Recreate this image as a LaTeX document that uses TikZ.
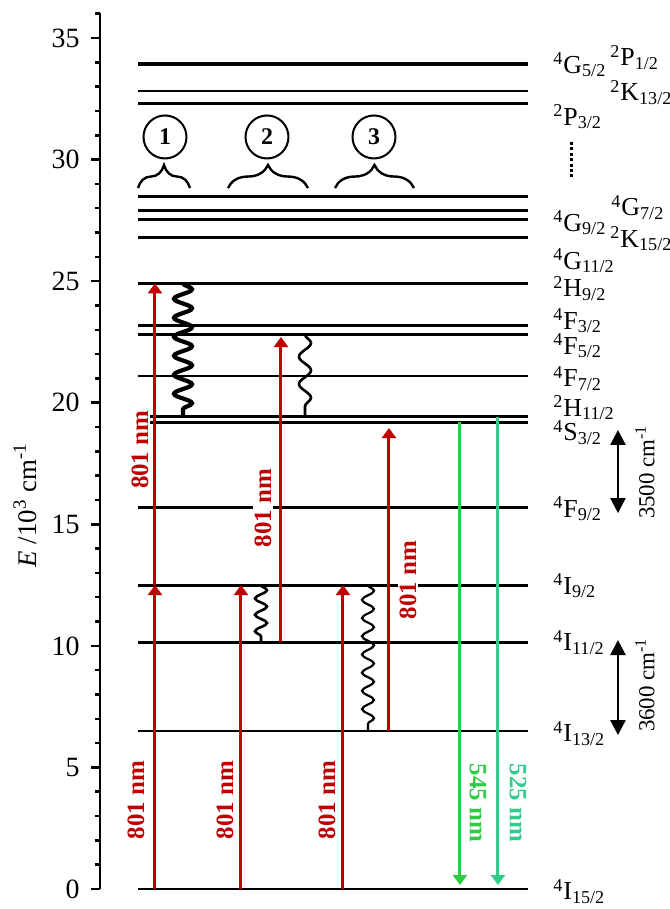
\documentclass[tikz,border=0pt]{standalone}
\usepackage{fontspec}
\setmainfont{Liberation Serif}
\usetikzlibrary{arrows.meta,decorations.pathmorphing,decorations.pathreplacing}
\definecolor{pumpred}{RGB}{192,0,0}
\definecolor{green545}{RGB}{46,204,64}
\definecolor{green525}{RGB}{48,204,140}
\newcommand{\stlab}[3]{\textsuperscript{#1}#2\textsubscript{#3}}

\begin{document}
\begin{tikzpicture}[
  x=0.5bp, y=12.157bp,
  lvl/.style     ={line width=1.45bp},
  toplvl/.style  ={line width=1.9bp},
  axis/.style    ={line width=1.25bp},
  pump/.style    ={pumpred, line width=1.5bp, -{Triangle[width=7bp,length=5bp]}},
  emit/.style    ={line width=1.5bp, -{Triangle[width=7bp,length=5bp]}},
  split/.style   ={line width=1.2bp, {Triangle[width=7.5bp,length=7.5bp]}-{Triangle[width=7.5bp,length=7.5bp]}},
  relax/.style   ={decorate, line width=1.3bp},
  brc/.style     ={decorate, decoration={brace, amplitude=11.5bp}, line width=1.2bp},
  num/.style     ={circle, draw, line width=1bp, minimum size=21.5bp, inner sep=0pt,
                   font=\fontsize{12}{14}\selectfont\bfseries},
  termlab/.style ={anchor=base west, inner sep=0pt, font=\fontsize{13}{16}\selectfont},
  ticklab/.style ={anchor=east, inner sep=0pt, font=\fontsize{14}{16}\selectfont},
  wl/.style      ={rotate=90, fill=white, inner sep=1pt, font=\fontsize{12.5}{15}\selectfont\bfseries},
  spl/.style     ={rotate=90, inner sep=0pt, font=\fontsize{11.5}{14}\selectfont}
]
\useasboundingbox (0,-0.8226) rectangle (670,36.564);

% energy axis
\draw[axis] (100,0) -- (100,36.03);
\foreach \e in {0,...,36}
  \draw[axis] (100,\e) -- (95,\e);
\foreach \e in {0,5,...,35} {
  \draw[axis] (100,\e) -- (91,\e);
  \node[ticklab] (t\e) at (80,\e) {\e};
}
\node[rotate=90, font=\fontsize{13.5}{16}\selectfont] (elab) at (25,15.79)
  {\textit{E} /10\textsuperscript{3} cm\textsuperscript{-1}};

% levels
\coordinate (G52)  at (138,33.92);
\coordinate (K132) at (138,32.82);
\coordinate (P32)  at (138,32.31);
\coordinate (G72)  at (138,28.47);
\coordinate (G92)  at (138,27.89);
\coordinate (K152) at (138,27.54);
\coordinate (G112) at (138,26.80);
\coordinate (H92)  at (138,24.91);
\coordinate (F32)  at (138,23.17);
\coordinate (F52)  at (138,22.81);
\coordinate (F72)  at (138,21.10);
\coordinate (H112) at (138,19.43);
\coordinate (S32)  at (138,19.19);
\coordinate (F92)  at (138,15.68);
\coordinate (I92)  at (138,12.50);
\coordinate (I112) at (138,10.15);
\coordinate (I132) at (138,6.50);
\coordinate (I152) at (138,0);

\draw[toplvl] (G52) -- ++(390,0);
\foreach \n in {K132,P32,G72,G92,K152,G112,H92,F32,F52,F72,H112,S32,F92,I92,I112,I132,I152}
  \draw[lvl] (\n) -- ++(390,0);

% term labels
\node[termlab] (lG52)  at (553,33.56) {\stlab{4}{G}{5/2}};
\node[termlab] (lP12)  at (610,33.85) {\stlab{2}{P}{1/2}};
\node[termlab] (lK132) at (610,32.41) {\stlab{2}{K}{13/2}};
\node[termlab] (lP32)  at (553,31.42) {\stlab{2}{P}{3/2}};
\node[termlab] (lG72)  at (611,27.68) {\stlab{4}{G}{7/2}};
\node[termlab] (lG92)  at (553,27.06) {\stlab{4}{G}{9/2}};
\node[termlab] (lK152) at (610,26.40) {\stlab{2}{K}{15/2}};
\node[termlab] (lG112) at (553,25.50) {\stlab{4}{G}{11/2}};
\node[termlab] (lH92)  at (553,24.35) {\stlab{2}{H}{9/2}};
\node[termlab] (lF32)  at (553,23.03) {\stlab{4}{F}{3/2}};
\node[termlab] (lF52)  at (553,22.00) {\stlab{4}{F}{5/2}};
\node[termlab] (lF72)  at (553,20.65) {\stlab{4}{F}{7/2}};
\node[termlab] (lH112) at (553,19.45) {\stlab{2}{H}{11/2}};
\node[termlab] (lS32)  at (553,18.43) {\stlab{4}{S}{3/2}};
\node[termlab] (lF92)  at (553,15.30) {\stlab{4}{F}{9/2}};
\node[termlab] (lI92)  at (553,12.13) {\stlab{4}{I}{9/2}};
\node[termlab] (lI112) at (553,9.79)  {\stlab{4}{I}{11/2}};
\node[termlab] (lI132) at (553,6.05)  {\stlab{4}{I}{13/2}};
\node[termlab] (lI152) at (553,-0.45) {\stlab{4}{I}{15/2}};
\draw[line width=1.5bp, dash pattern=on 1.5bp off 1.2bp] (572,30.72) -- (572,29.28);

% processes 1-3
\node[num] (n1) at (165,30.93) {1};
\node[num] (n2) at (267,30.93) {2};
\node[num] (n3) at (374,30.93) {3};
\draw[brc] (138,28.83) -- (190,28.83);
\draw[brc] (228,28.83) -- (308,28.83);
\draw[brc] (335,28.83) -- (414,28.83);

% wavelength labels
\node[wl, text=pumpred] (w1a) at (136,3.66)  {801 nm};
\node[wl, text=pumpred] (w1b) at (140,18.06) {801 nm};
\node[wl, text=pumpred] (w2)  at (225,3.66)  {801 nm};
\node[wl, text=pumpred] (w3)  at (327,3.66)  {801 nm};
\node[wl, text=pumpred] (w4)  at (263,15.67) {801 nm};
\node[wl, text=pumpred] (w5)  at (408,12.71) {801 nm};
\node[wl, rotate=180, text=green545] (w545) at (478,3.54) {545 nm};
\node[wl, rotate=180, text=green525] (w525) at (518,3.54) {525 nm};

% pump and emission arrows
\coordinate (c1) at (155,0);
\coordinate (c2) at (241,0);
\coordinate (c3) at (343,0);
\coordinate (c4) at (281,0);
\coordinate (c5) at (389,0);
\coordinate (g1) at (460,0);
\coordinate (g2) at (498,0);
\draw[pump] (c1 |- I152) -- (c1 |- I92);
\draw[pump] (c1 |- I92) -- (c1 |- H92);
\draw[pump] (c2 |- I152) -- (c2 |- I92);
\draw[pump] (c3 |- I152) -- (c3 |- I92);
\draw[pump, shorten >=1.3bp] (c4 |- I112) -- (c4 |- F52);
\draw[pump, shorten >=2.8bp] (c5 |- I132) -- (c5 |- S32);
\draw[emit, green545, shorten >=2bp] (g1 |- S32) -- (g1 |- I152);
\draw[emit, green525, shorten >=2bp] (g2 |- H112) -- (g2 |- I152);

% non-radiative relaxation
\coordinate (r1) at (183,0);
\coordinate (r2) at (305,0);
\coordinate (r3) at (261,0);
\coordinate (r4) at (368,0);
\draw[relax, line width=2.1bp, decoration={snake, amplitude=4.5bp, segment length=9.5bp}]
  (r1 |- H92) -- (r1 |- H112);
\draw[relax, decoration={snake, amplitude=3bp, segment length=13.7bp}]
  (r2 |- F52) -- (r2 |- H112);
\draw[relax, decoration={snake, amplitude=3bp, segment length=8.2bp}]
  (r3 |- I92) -- (r3 |- I112);
\draw[relax, line width=1.1bp, decoration={snake, amplitude=3bp, segment length=9.1bp}]
  (r4 |- I92) -- (r4 |- I132);

% energy gaps
\coordinate (d1a) at (618,18.88);
\coordinate (d1b) at (618,15.46);
\coordinate (d2a) at (618,10.24);
\coordinate (d2b) at (618,6.33);
\draw[split] (d1a) -- (d1b);
\draw[split] (d2a) -- (d2b);
\node[spl] (gap35) at (645,17.15) {3500 cm\textsuperscript{-1}};
\node[spl] (gap36) at (645,8.39)  {3600 cm\textsuperscript{-1}};
\end{tikzpicture}
\end{document}
